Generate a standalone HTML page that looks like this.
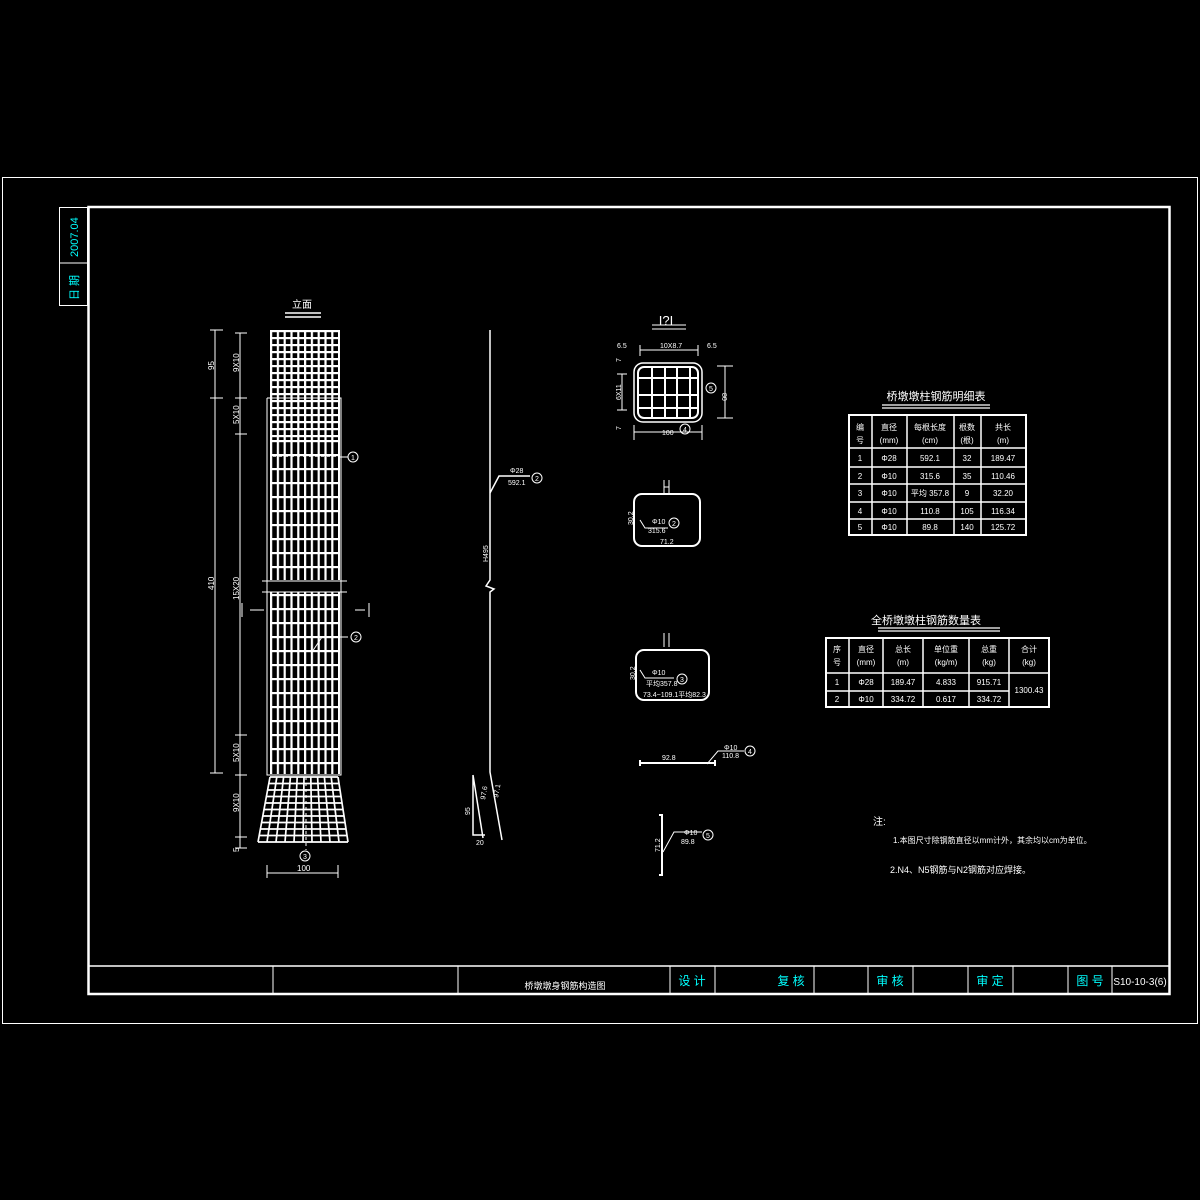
<!DOCTYPE html>
<html><head><meta charset="utf-8"><style>
html,body{margin:0;padding:0;background:#000;}
svg{display:block}
text{font-family:"Liberation Sans","Noto Sans CJK SC",sans-serif;fill:#fff}
.c{fill:#00ffff}
</style></head><body>
<svg width="1200" height="1200" viewBox="0 0 1200 1200" xmlns="http://www.w3.org/2000/svg">
<defs>
<pattern id="gd" x="270" y="330" width="6.8" height="7" patternUnits="userSpaceOnUse">
<rect x="0" y="0" width="2.2" height="7" fill="#fff"/><rect x="0" y="0" width="6.8" height="2.2" fill="#fff"/></pattern>
<pattern id="gs" x="270" y="440" width="6.8" height="14" patternUnits="userSpaceOnUse">
<rect x="0" y="0" width="2.2" height="14" fill="#fff"/><rect x="0" y="0" width="6.8" height="2.2" fill="#fff"/></pattern>
</defs>
<rect width="1200" height="1200" fill="#000"/>
<g fill="none" stroke="#fff">
<rect x="2.5" y="177.5" width="1195" height="846" stroke-width="1"/>
<rect x="88.5" y="207" width="1081" height="787" stroke-width="2.5"/>
<rect x="59.5" y="207.5" width="28" height="98" stroke-width="1"/>
<line x1="59" y1="263" x2="88" y2="263"/>
<line x1="88" y1="966" x2="1169" y2="966" stroke-width="1.5"/>
<path d="M273 966V994M458 966V994M670 966V994M715 966V994M814 966V994M868 966V994M913 966V994M968 966V994M1013 966V994M1068 966V994M1112 966V994"/>
</g>
<text class="c" x="0" y="0" font-size="11" transform="translate(78,257) rotate(-90)">2007.04</text>
<text class="c" x="0" y="0" font-size="11" transform="translate(78,300) rotate(-90)">日 期</text>
<!-- column elevation -->
<text x="302" y="308" font-size="10" text-anchor="middle">立面</text>
<path d="M285 313H321M285 317H321" stroke="#fff" stroke-width="1.5"/>
<rect x="270" y="330" width="70" height="110" fill="url(#gd)"/>
<rect x="270" y="440" width="70" height="140" fill="url(#gs)"/>
<rect x="270" y="592" width="70" height="182" fill="url(#gs)"/>
<g stroke="#fff" fill="none">
<path d="M267 398V775H341V398H267" stroke-width="1"/>
<path d="M262 581H347M262 592H347" stroke-width="1"/>
<path d="M273 456H340" stroke-dasharray="3,3" stroke-width="1.5"/>
<line x1="340" y1="457" x2="348" y2="457"/>
<circle cx="353" cy="457" r="5"/>
<line x1="322" y1="637" x2="348" y2="637"/><circle cx="356" cy="637" r="5"/>
<line x1="322" y1="637" x2="312" y2="652"/>
<path d="M250 610H264M355 610H365M242 603V617M369 603V617"/>
<g stroke-width="1.7">
<path d="M270 777L258 842M276.8 777L267 842M283.6 777L276 842M290.4 777L285 842M297.2 777L294 842M304 777L303 842M310.8 777L312 842M317.6 777L321 842M324.4 777L330 842M331.2 777L339 842M338 777L348 842"/>
<path d="M270 777H338M268.8 783.5H339M267.6 790H340M266.4 796.5H341M265.2 803H342M264 809.5H343M262.8 816H344M261.6 822.5H345M260.4 829H346M259.2 835.5H347M258 842H348"/>
</g>
<line x1="306" y1="777" x2="306" y2="850" stroke-dasharray="3,3"/>
<circle cx="305" cy="856" r="5"/>
<path d="M215 330V773M210 330H223M210 398H223M210 773H223"/>
<path d="M240 333V848M235 333H247M235 398H247M235 434H247M235 735H247M235 775H247M235 837H247M235 848H247"/>
<path d="M267 865V878M338 865V878M267 873H338"/>
</g>
<g font-size="8">
<text transform="translate(214,370) rotate(-90)">95</text>
<text transform="translate(239,372) rotate(-90)">9X10</text>
<text transform="translate(239,424) rotate(-90)">5X10</text>
<text transform="translate(214,590) rotate(-90)">410</text>
<text transform="translate(239,600) rotate(-90)">15X20</text>
<text transform="translate(239,762) rotate(-90)">5X10</text>
<text transform="translate(239,812) rotate(-90)">9X10</text>
<text transform="translate(239,852) rotate(-90)">5</text>
<text x="297" y="871">100</text>
<text x="351" y="460" font-size="7">1</text><text x="354" y="640" font-size="7">2</text><text x="303" y="859" font-size="7">3</text>
</g>
<!-- middle bar -->
<g stroke="#fff" fill="none" stroke-width="1.5">
<path d="M490 330V580L486 586L494 589L490 592V772L502 840"/>
<path d="M473 775L483 838M473 775V835H485"/>
<path d="M490 493L499 476H530"/><circle cx="537" cy="478" r="5" stroke-width="1"/>
</g>
<g font-size="7"><text x="510" y="473">Φ28</text><text x="508" y="485">592.1</text>
<text x="535" y="481" font-size="7">2</text>
<text transform="translate(488,562) rotate(-90)">H495</text>
<text transform="translate(470,815) rotate(-90)">95</text>
<text transform="translate(485,800) rotate(-80)">97.6</text>
<text transform="translate(498,798) rotate(-80)">97.1</text>
<text x="476" y="845">20</text></g>
<!-- section I-I -->
<text x="666" y="325" font-size="13" text-anchor="middle">I?I</text>
<path d="M652 325H686M652 329H686" stroke="#fff"/>
<g stroke="#fff" fill="none">
<rect x="634" y="363" width="68" height="59" rx="9" stroke-width="1.5"/>
<rect x="638" y="367" width="60" height="51" rx="6" stroke-width="2"/>
<path d="M652 367V418M665 367V418M677 367V418M690 367V418M638 378H698M638 395H698M638 408H698" stroke-width="2"/>
<path d="M640 350H698M640 345V356M698 345V356M634 432H702M634 425V440M702 425V440M725 366V418M717 366H733M717 418H733M622 374V410M617 374H627M617 410H627"/>
<circle cx="685" cy="429" r="5"/><circle cx="711" cy="388" r="5"/>
<rect x="634" y="494" width="66" height="52" rx="8" stroke-width="2"/>
<path d="M664 480V493M669 480V493M664 487H669M640 520L645 528H668"/><circle cx="674" cy="523" r="5"/>
<rect x="636" y="650" width="73" height="50" rx="8" stroke-width="2"/>
<path d="M664 633V647M669 633V647M640 670L645 678H674"/><circle cx="682" cy="679" r="5"/>
<path d="M640 763H715M640 760V766M715 760V766" stroke-width="2"/>
<path d="M707 764L718 751H744"/><circle cx="750" cy="751" r="5"/>
<path d="M662 815V875M659 815H663M659 875H663" stroke-width="2"/>
<path d="M663 852L674 832H702"/><circle cx="708" cy="835" r="5"/>
</g>
<g font-size="7">
<text x="617" y="348">6.5</text><text x="660" y="348">10X8.7</text><text x="707" y="348">6.5</text>
<text transform="translate(621,362) rotate(-90)">7</text><text transform="translate(621,400) rotate(-90)">6X11</text><text transform="translate(621,430) rotate(-90)">7</text>
<text x="662" y="435">100</text><text x="683" y="432">4</text><text x="709" y="391">5</text>
<text transform="translate(722,393) rotate(90)">80</text>
<text x="652" y="524">Φ10</text><text x="648" y="533">315.6</text><text x="672" y="526">2</text>
<text x="660" y="544">71.2</text><text transform="translate(633,525) rotate(-90)">30.2</text>
<text x="652" y="675">Φ10</text><text x="646" y="686">平均357.8</text><text x="680" y="682">3</text>
<text x="643" y="697">73.4~109.1平均82.3</text><text transform="translate(635,680) rotate(-90)">30.2</text>
<text x="662" y="760">92.8</text><text x="724" y="750">Φ10</text><text x="722" y="758">110.8</text><text x="748" y="754">4</text>
<text x="684" y="835">Φ10</text><text x="681" y="844">89.8</text><text x="706" y="838">5</text>
<text transform="translate(660,852) rotate(-90)">71.2</text>
</g>
<!-- table 1 -->
<text x="936" y="400" font-size="11" text-anchor="middle">桥墩墩柱钢筋明细表</text>
<path d="M882 405H990M882 408H990" stroke="#fff" stroke-width="1.2"/>
<g stroke="#fff" fill="none" stroke-width="1.5">
<rect x="849" y="415" width="177" height="120" stroke-width="2"/>
<path d="M872 415V535M907 415V535M954 415V535M981 415V535M849 448H1026M849 467H1026M849 484H1026M849 502H1026M849 519H1026"/>
</g>
<g font-size="8" text-anchor="middle">
<text x="860" y="430">编</text><text x="860" y="443">号</text>
<text x="889" y="430">直径</text><text x="889" y="443">(mm)</text>
<text x="930" y="430">每根长度</text><text x="930" y="443">(cm)</text>
<text x="967" y="430">根数</text><text x="967" y="443">(根)</text>
<text x="1003" y="430">共长</text><text x="1003" y="443">(m)</text>
<text x="860" y="461">1</text><text x="889" y="461">Φ28</text><text x="930" y="461">592.1</text><text x="967" y="461">32</text><text x="1003" y="461">189.47</text>
<text x="860" y="479">2</text><text x="889" y="479">Φ10</text><text x="930" y="479">315.6</text><text x="967" y="479">35</text><text x="1003" y="479">110.46</text>
<text x="860" y="496">3</text><text x="889" y="496">Φ10</text><text x="930" y="496">平均 357.8</text><text x="967" y="496">9</text><text x="1003" y="496">32.20</text>
<text x="860" y="514">4</text><text x="889" y="514">Φ10</text><text x="930" y="514">110.8</text><text x="967" y="514">105</text><text x="1003" y="514">116.34</text>
<text x="860" y="530">5</text><text x="889" y="530">Φ10</text><text x="930" y="530">89.8</text><text x="967" y="530">140</text><text x="1003" y="530">125.72</text>
</g>
<!-- table 2 -->
<text x="926" y="624" font-size="11" text-anchor="middle">全桥墩墩柱钢筋数量表</text>
<path d="M878 628H1000M878 631H1000" stroke="#fff" stroke-width="1.2"/>
<g stroke="#fff" fill="none" stroke-width="1.5">
<rect x="826" y="638" width="223" height="69" stroke-width="2"/>
<path d="M849 638V707M883 638V707M923 638V707M969 638V707M1009 638V707M826 673H1049M826 691H1009"/>
</g>
<g font-size="8" text-anchor="middle">
<text x="837" y="652">序</text><text x="837" y="665">号</text>
<text x="866" y="652">直径</text><text x="866" y="665">(mm)</text>
<text x="903" y="652">总长</text><text x="903" y="665">(m)</text>
<text x="946" y="652">单位重</text><text x="946" y="665">(kg/m)</text>
<text x="989" y="652">总重</text><text x="989" y="665">(kg)</text>
<text x="1029" y="652">合计</text><text x="1029" y="665">(kg)</text>
<text x="837" y="685">1</text><text x="866" y="685">Φ28</text><text x="903" y="685">189.47</text><text x="946" y="685">4.833</text><text x="989" y="685">915.71</text>
<text x="837" y="702">2</text><text x="866" y="702">Φ10</text><text x="903" y="702">334.72</text><text x="946" y="702">0.617</text><text x="989" y="702">334.72</text>
<text x="1029" y="693">1300.43</text>
</g>
<text x="873" y="825" font-size="10">注:</text>
<text x="893" y="843" font-size="8">1.本图尺寸除钢筋直径以mm计外，其余均以cm为单位。</text>
<text x="890" y="873" font-size="9">2.N4、N5钢筋与N2钢筋对应焊接。</text>
<text x="565" y="989" font-size="9" text-anchor="middle">桥墩墩身钢筋构造图</text>
<text class="c" x="692" y="985" font-size="12" text-anchor="middle">设 计</text>
<text class="c" x="791" y="985" font-size="12" text-anchor="middle">复 核</text>
<text class="c" x="890" y="985" font-size="12" text-anchor="middle">审 核</text>
<text class="c" x="990" y="985" font-size="12" text-anchor="middle">审 定</text>
<text class="c" x="1090" y="985" font-size="12" text-anchor="middle">图 号</text>
<text x="1140" y="985" font-size="10" text-anchor="middle">S10-10-3(6)</text>
</svg>
</body></html>
